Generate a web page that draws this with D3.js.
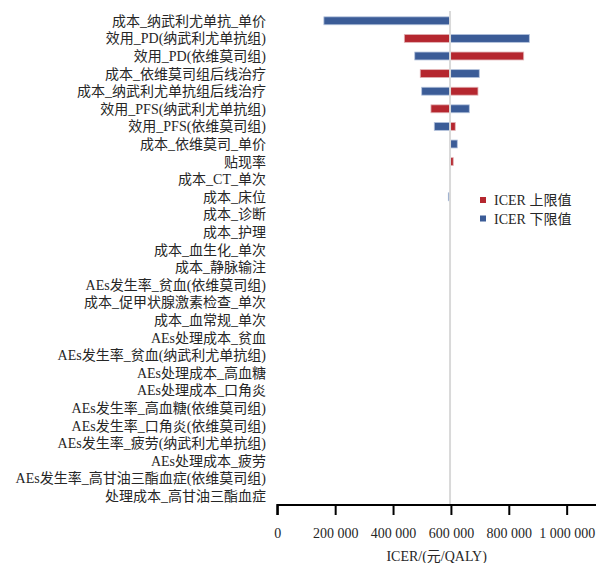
<!DOCTYPE html>
<html>
<head>
<meta charset="utf-8">
<script src="https://cdn.jsdelivr.net/npm/d3@7"></script>
<style>
  body { margin: 0; background: #fff; }
  svg text { font-family: "Liberation Serif", "Noto Sans CJK SC", serif; fill: #262626; }
</style>
</head>
<body>
<svg id="chart"></svg>
<script>
// 参数名称（自上而下）
var params = [
  '成本_纳武利尤单抗_单价',
  '效用_PD(纳武利尤单抗组)',
  '效用_PD(依维莫司组)',
  '成本_依维莫司组后线治疗',
  '成本_纳武利尤单抗组后线治疗',
  '效用_PFS(纳武利尤单抗组)',
  '效用_PFS(依维莫司组)',
  '成本_依维莫司_单价',
  '贴现率',
  '成本_CT_单次',
  '成本_床位',
  '成本_诊断',
  '成本_护理',
  '成本_血生化_单次',
  '成本_静脉输注',
  'AEs发生率_贫血(依维莫司组)',
  '成本_促甲状腺激素检查_单次',
  '成本_血常规_单次',
  'AEs处理成本_贫血',
  'AEs发生率_贫血(纳武利尤单抗组)',
  'AEs处理成本_高血糖',
  'AEs处理成本_口角炎',
  'AEs发生率_高血糖(依维莫司组)',
  'AEs发生率_口角炎(依维莫司组)',
  'AEs发生率_疲劳(纳武利尤单抗组)',
  'AEs处理成本_疲劳',
  'AEs发生率_高甘油三酯血症(依维莫司组)',
  '处理成本_高甘油三酯血症'
];

var baseIcer = 597000;

// ICER 上限值 (红)
var upperIcer = [
  597000, 439000, 851500, 494000, 693500, 531000, 615000, 597000, 608000, 597000,
  597000, 597000, 597000, 597000, 597000, 597000, 597000, 597000, 597000, 597000,
  597000, 597000, 597000, 597000, 597000, 597000, 597000, 597000
];

// ICER 下限值 (蓝)
var lowerIcer = [
  161000, 871000, 475000, 698000, 499000, 663500, 542500, 622000, 597000, 597000,
  591000, 597000, 597000, 597000, 597000, 597000, 597000, 597000, 597000, 597000,
  597000, 597000, 597000, 597000, 597000, 597000, 597000, 597000
];

var xTicks = [0, 200000, 400000, 600000, 800000, 1000000];
var legendNames = ['ICER 上限值', 'ICER 下限值'];
var colors = ['#b5272f', '#3b5c97'];

var width = 596, height = 563;
var svg = d3.select('#chart').attr('width', width).attr('height', height);

var x = d3.scaleLinear().domain([0, 1100000]).range([277.3, 595.6]);
var y = d3.scaleBand().domain(params).range([12, 504.8])
          .paddingInner(0.55).paddingOuter(0.275);

var rows = params.map(function (p, i) {
  return { name: p, upper: upperIcer[i], lower: lowerIcer[i] };
});

// 标签
svg.append('g').selectAll('text')
  .data(params)
  .enter().append('text')
  .attr('x', 266)
  .attr('y', function (d) { return y(d) + y.bandwidth() / 2; })
  .attr('dy', '0.36em')
  .attr('text-anchor', 'end')
  .style('font-size', '14px')
  .text(function (d) { return d; });

// 条形
var keys = ['upper', 'lower'];
keys.forEach(function (k, ki) {
  svg.append('g').selectAll('rect')
    .data(rows.filter(function (r) { return r[k] !== baseIcer; }))
    .enter().append('rect')
    .attr('x', function (d) { return Math.min(x(d[k]), x(baseIcer)); })
    .attr('y', function (d) { return y(d.name); })
    .attr('width', function (d) { return Math.abs(x(d[k]) - x(baseIcer)); })
    .attr('height', y.bandwidth())
    .attr('fill', colors[ki])
    .attr('stroke', ki === 0 ? '#e2b3b6' : '#b3c2dc')
    .attr('stroke-width', 0.8);
});

// 基准线
svg.append('line')
  .attr('x1', x(baseIcer)).attr('x2', x(baseIcer))
  .attr('y1', 11).attr('y2', 505)
  .attr('stroke', '#d9d9d9')
  .attr('stroke-width', 2);

// x 轴
var axis = d3.axisBottom(x)
  .tickValues(xTicks)
  .tickSize(10)
  .tickPadding(13)
  .tickFormat(function (d) { return d3.format(',')(d).replace(/,/g, ' '); });

var gx = svg.append('g')
  .attr('transform', 'translate(0,505)')
  .call(axis);
gx.select('.domain')
  .attr('d', 'M' + x(0) + ',10V0H' + width)
  .attr('stroke', '#000')
  .attr('stroke-width', 2)
  .attr('fill', 'none');
gx.selectAll('.tick line').attr('stroke', '#000').attr('stroke-width', 2);
gx.selectAll('.tick text')
  .style('font-size', '14px')
  .style('font-family', '"Liberation Serif", "Noto Sans CJK SC", serif')
  .attr('fill', '#262626');

svg.append('text')
  .attr('x', (x(0) + width) / 2)
  .attr('y', 561)
  .attr('text-anchor', 'middle')
  .style('font-size', '14px')
  .text('ICER/(元/QALY)');

// 图例
var legend = svg.append('g').selectAll('g')
  .data(legendNames)
  .enter().append('g')
  .attr('transform', function (d, i) { return 'translate(480,' + (200 + i * 18.5) + ')'; });
legend.append('rect')
  .attr('x', 0).attr('y', -3)
  .attr('width', 6).attr('height', 6)
  .attr('fill', function (d, i) { return colors[i]; });
legend.append('text')
  .attr('x', 14)
  .attr('dy', '0.36em')
  .style('font-size', '14px')
  .text(function (d) { return d; });
</script>
</body>
</html>
